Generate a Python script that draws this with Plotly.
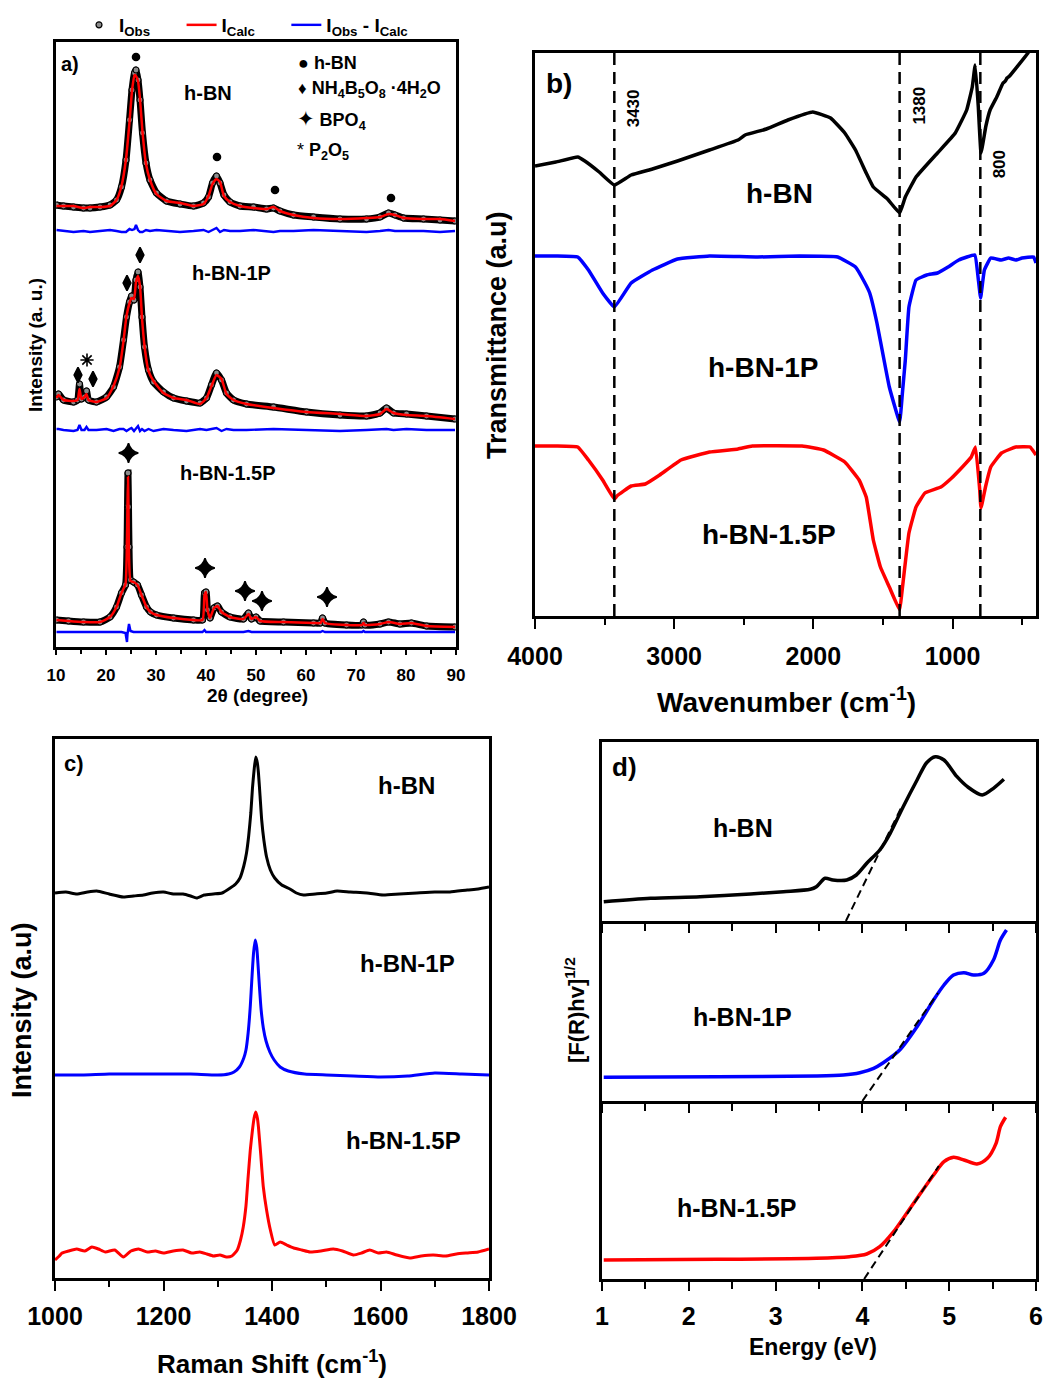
import plotly.graph_objects as go

W, H = 1045, 1380
FONT = "Liberation Sans, Arial, DejaVu Sans, sans-serif"

# ---------------- (a) XRD with refinement ----------------
tt_hbn = [10.1, 11.5, 13.5, 15.5, 16.8, 18.8, 20.8, 22.1, 23.1, 24.0, 24.7, 25.2, 25.7, 26.0, 26.4,
          26.8, 27.3, 28.0, 28.8, 30.1, 32.1, 34.8, 37.5, 39.5, 40.5, 41.3, 42.1, 42.8, 43.6, 44.8,
          46.8, 49.5, 52.1, 53.5, 54.8, 57.5, 61.5, 66.8, 72.1, 74.8, 76.5, 77.8, 79.5, 83.5, 86.8, 89.8]
obs_hbn = [442, 441, 440, 439, 439, 440, 442, 447, 460, 487, 527, 557, 574, 577, 567,
           547, 514, 484, 467, 454, 446, 443, 441, 444, 450, 464, 471, 464, 452, 445,
           441, 440, 438, 439, 436, 432, 430, 428, 428, 430, 434, 432, 429, 428, 427, 426]
calc_hbn = [441, 441, 441, 439, 440, 440, 441, 447, 461, 488, 525, 556, 572, 571, 566,
            548, 515, 483, 467, 453, 446, 444, 441, 443, 451, 463, 468, 465, 451, 445,
            441, 439, 438, 440, 436, 432, 429, 428, 429, 430, 433, 432, 429, 428, 428, 426]

tt_1p = [10.1, 10.5, 11.5, 13.5, 14.3, 14.7, 15.1, 15.7, 16.1, 16.5, 18.1, 20.1, 21.5, 22.7, 23.5,
         24.1, 24.7, 25.1, 25.6, 26.0, 26.4, 26.8, 27.2, 27.7, 28.5, 29.5, 31.5, 33.5, 36.1, 38.8,
         40.1, 41.1, 42.1, 43.1, 44.1, 45.5, 48.1, 53.5, 60.1, 66.8, 72.1, 74.8, 76.1, 77.5, 80.1,
         84.1, 89.8]
obs_1p = [250, 253, 247, 245, 247, 263, 248, 250, 256, 247, 245, 250, 260, 280, 307,
          330, 345, 351, 347, 367, 375, 360, 330, 300, 277, 265, 255, 249, 246, 244,
          249, 262, 274, 267, 254, 247, 243, 240, 235, 232, 231, 234, 239, 234, 233,
          231, 228]
calc_1p = [249, 252, 247, 246, 247, 258, 248, 250, 253, 247, 245, 249, 261, 279, 306,
           331, 344, 349, 348, 365, 371, 361, 329, 301, 276, 266, 254, 249, 247, 243,
           249, 261, 272, 268, 253, 247, 243, 239, 235, 233, 231, 233, 238, 234, 232,
           231, 228]

tt_15p = [10.1, 12.5, 15.5, 18.8, 20.8, 22.1, 23.1, 23.9, 24.2, 24.3, 24.4, 24.5, 24.6, 24.9, 25.5,
          26.3, 27.1, 28.1, 28.9, 30.1, 33.5, 37.5, 39.3, 39.7, 40.0, 40.3, 40.8, 41.6, 42.3, 43.1,
          44.8, 47.5, 48.5, 49.1, 50.0, 50.8, 55.5, 61.5, 62.9, 63.3, 63.8, 68.1, 71.2, 71.5, 71.8,
          74.8, 76.5, 78.8, 81.1, 84.1, 89.8]
obs_15p = [27, 26, 25, 25, 30, 40, 54, 62, 100, 140, 174, 140, 100, 67, 65,
           62, 52, 40, 35, 32, 29, 27, 27, 54, 55, 37, 29, 39, 41, 35,
           30, 28, 34, 28, 30, 26, 25, 24, 24, 29, 24, 22, 22, 25, 22,
           23, 25, 23, 24, 21, 20]
calc_15p = [27, 26, 25, 25, 30, 40, 54, 63, 110, 142, 170, 138, 92, 66, 65,
            62, 52, 40, 35, 32, 29, 27, 27, 52, 55, 37, 29, 39, 41, 35,
            30, 28, 33, 28, 30, 26, 25, 24, 24, 28, 24, 22, 22, 24, 22,
            23, 25, 23, 24, 21, 20]

# baseline of each difference curve in the stacked plot
diff_base = {"hbn": 416, "1p": 217, "15p": 15}

# phase reflections marked above the patterns
pk_hbn_x = [26.0, 42.2, 53.8, 77.0]
pk_hbn_y = [590, 490, 457, 449]
pk_nh4_x = [14.4, 17.4, 24.2, 26.8]
pk_nh4_y = [272, 268, 364, 392]
pk_p2o5_x = [16.2]
pk_p2o5_y = [287]
pk_bpo4_x = [24.5, 39.8, 47.8, 51.2, 64.2]
pk_bpo4_y = [194, 79, 56, 46, 50]

# ---------------- (b) FTIR ----------------
wn_hbn = [4000, 3850, 3693, 3642, 3539, 3430, 3309, 3156, 2976, 2746, 2541, 2490, 2337, 2183, 2004,
          1876, 1774, 1697, 1620, 1569, 1467, 1380, 1339, 1262, 1108, 980, 898, 858, 837, 815,
          795, 760, 730, 682, 637, 620, 608, 590, 458, 400]
ft_hbn = [450, 454, 459, 455, 444, 431, 441, 447, 455, 466, 476, 481, 487, 496, 504,
          498, 483, 466, 443, 429, 417, 403, 419, 439, 463, 483, 506, 529, 551, 510,
          463, 490, 506, 519, 533, 535, 538, 540, 563, 578]
wn_1p = [4000, 3850, 3693, 3616, 3514, 3430, 3309, 3156, 2976, 2746, 2400, 2100, 1825, 1697, 1633,
         1595, 1543, 1492, 1454, 1380, 1360, 1339, 1313, 1262, 1185, 1108, 1032, 955, 840, 814,
         798, 771, 725, 650, 597, 545, 500, 417, 400]
ft_1p = [360, 360, 359, 346, 323, 309, 333, 346, 357, 360, 359, 360, 359, 349, 334,
         323, 293, 256, 229, 194, 223, 256, 309, 336, 341, 343, 349, 356, 361, 336,
         318, 346, 358, 356, 358, 356, 358, 359, 353]
wn_15p = [4000, 3850, 3693, 3616, 3514, 3430, 3411, 3309, 3207, 3104, 2951, 2746, 2541, 2439, 2081,
          1927, 1774, 1671, 1620, 1569, 1518, 1454, 1380, 1364, 1313, 1262, 1198, 1083, 1006, 929,
          865, 835, 806, 795, 763, 725, 648, 545, 443, 400]
ft_15p = [170, 170, 169, 156, 136, 117, 120, 130, 132, 141, 156, 164, 167, 170, 170,
          166, 154, 136, 119, 76, 49, 29, 6, 23, 83, 109, 123, 129, 138, 149,
          159, 169, 129, 108, 129, 149, 163, 169, 169, 161]
ftir_bands = [3430, 1380, 800]
ftir_band_labels = ["3430", "1380", "800"]

# ---------------- (c) Raman ----------------
rs_hbn = [1000, 1020, 1040, 1060, 1077, 1100, 1126, 1145, 1163, 1180, 1200, 1218, 1236, 1250, 1261,
          1275, 1292, 1308, 1323, 1333, 1341, 1348, 1353, 1357, 1361, 1364, 1367, 1370, 1373, 1375,
          1378, 1381, 1385, 1390, 1397, 1405, 1418, 1433, 1445, 1458, 1480, 1501, 1520, 1544, 1575,
          1605, 1635, 1667, 1700, 1728, 1760, 1780, 1800]
ram_hbn = [385, 386, 384, 386, 387, 384, 381, 382, 383, 385, 386, 384, 384, 382, 380,
           383, 384, 385, 390, 394, 400, 412, 425, 442, 465, 490, 508, 521, 515, 505,
           482, 458, 438, 421, 408, 400, 393, 389, 385, 383, 384, 385, 387, 386, 385,
           383, 384, 385, 386, 386, 388, 389, 391]
rs_1p = [1000, 1050, 1100, 1150, 1200, 1250, 1300, 1320, 1330, 1340, 1348, 1352, 1356, 1360, 1363,
         1366, 1369, 1372, 1374, 1377, 1380, 1384, 1389, 1396, 1404, 1415, 1430, 1460, 1500, 1550,
         1600, 1650, 1700, 1750, 1800]
ram_1p = [203, 203, 204, 204, 204, 204, 203, 204, 206, 211, 220, 228, 245, 272, 300,
          325, 338, 330, 315, 290, 268, 250, 237, 226, 218, 211, 207, 204, 203, 202,
          201, 202, 205, 204, 203]
rs_15p = [1000, 1008, 1013, 1025, 1040, 1055, 1068, 1080, 1093, 1110, 1126, 1140, 1154, 1170, 1185,
          1200, 1218, 1236, 1252, 1267, 1280, 1292, 1304, 1316, 1326, 1336, 1342, 1347, 1352, 1356,
          1360, 1364, 1367, 1370, 1373, 1375, 1379, 1384, 1390, 1397, 1405, 1415, 1427, 1440, 1455,
          1470, 1490, 1513, 1530, 1550, 1565, 1580, 1596, 1611, 1630, 1654, 1675, 1697, 1720, 1740,
          1759, 1780, 1800]
ram_15p = [18, 22, 25, 27, 29, 27, 31, 29, 26, 28, 21, 27, 29, 26, 27,
           25, 27, 28, 25, 26, 24, 22, 23, 21, 22, 28, 38, 51, 72, 101,
           128, 148, 160, 166, 160, 151, 125, 91, 68, 48, 33, 36, 33, 30, 28,
           26, 27, 29, 27, 23, 25, 28, 25, 26, 23, 20, 22, 23, 22, 24,
           25, 26, 29]

# ---------------- (d) Tauc plots ----------------
E_hbn = [1.02, 1.56, 2.13, 2.71, 3.09, 3.40, 3.47, 3.57, 3.66, 3.82, 3.93, 4.05, 4.20, 4.32, 4.47,
         4.63, 4.74, 4.84, 4.94, 5.09, 5.21, 5.38, 5.51, 5.63]
uv_hbn = [19.3, 22.7, 24.3, 27.0, 29.3, 31.7, 34.3, 42.7, 41.0, 41.0, 46.0, 57.7, 71.0, 87.7, 114.3,
          141.0, 158.3, 164.3, 161.0, 144.3, 134.3, 126.0, 132.7, 141.7]
E_1p = [1.02, 2.33, 3.47, 3.78, 3.97, 4.13, 4.24, 4.43, 4.63, 4.82, 4.94, 5.05, 5.17, 5.28, 5.40,
        5.51, 5.59, 5.66]
uv_1p = [23.7, 24.3, 25.0, 26.0, 28.3, 32.7, 38.3, 51.0, 74.3, 101.0, 116.0, 126.0, 128.3, 126.0, 127.7,
         141.0, 161.0, 171.0]
E_15p = [1.02, 2.33, 3.47, 3.85, 4.05, 4.20, 4.36, 4.51, 4.67, 4.82, 4.94, 5.05, 5.17, 5.32, 5.44,
         5.54, 5.59, 5.65]
uv_15p = [19.0, 19.7, 20.7, 22.3, 25.0, 32.3, 47.3, 65.7, 85.7, 104.0, 117.3, 121.7, 119.0, 115.0, 120.7,
          135.7, 152.3, 161.7]
# linear extrapolations of the absorption edge
fit_hbn_E, fit_hbn_y = [3.81, 4.45], [0, 114]
fit_1p_E, fit_1p_y = [4.00, 4.87], [0, 108]
fit_15p_E, fit_15p_y = [4.02, 4.88], [0, 113]

BLACK, RED, BLUE = "#000000", "#ff0000", "#0000ff"
NB = "\u00a0"

fig = go.Figure()

# ---- panel a traces ----
patterns = [
    ("hbn", tt_hbn, obs_hbn, calc_hbn),
    ("1p", tt_1p, obs_1p, calc_1p),
    ("15p", tt_15p, obs_15p, calc_15p),
]
legend_names = {
    "obs": "I<sub>Obs</sub>" + NB * 5,
    "calc": "I<sub>Calc</sub>" + NB * 5,
    "diff": "I<sub>Obs</sub> - I<sub>Calc</sub>",
}
for i, (key, tt, obs, calc) in enumerate(patterns):
    first = i == 0
    fig.add_trace(go.Scatter(x=tt, y=obs, mode="lines", line=dict(color=BLACK, width=7, shape="spline", smoothing=0.5),
                             showlegend=False, hoverinfo="skip", xaxis="x", yaxis="y"))
    fig.add_trace(go.Scatter(x=tt, y=obs, mode="markers", name=legend_names["obs"], legendgroup="obs",
                             showlegend=first,
                             marker=dict(symbol="circle", size=6, color="#8c8c8c", line=dict(color=BLACK, width=1.2)),
                             xaxis="x", yaxis="y"))
    fig.add_trace(go.Scatter(x=tt, y=calc, mode="lines", name=legend_names["calc"], legendgroup="calc",
                             showlegend=first, line=dict(color=RED, width=2.5, shape="spline", smoothing=0.5),
                             xaxis="x", yaxis="y"))
    diff = [o - c + diff_base[key] for o, c in zip(obs, calc)]
    fig.add_trace(go.Scatter(x=tt, y=diff, mode="lines", name=legend_names["diff"],
                             legendgroup="diff", showlegend=first, line=dict(color=BLUE, width=2.4),
                             xaxis="x", yaxis="y"))

for xs, ys, sym, size in [(pk_hbn_x, pk_hbn_y, "circle", 7),
                          (pk_nh4_x, pk_nh4_y, "diamond-tall", 11),
                          (pk_bpo4_x, pk_bpo4_y, "star-diamond", 14),
                          (pk_p2o5_x, pk_p2o5_y, "asterisk-open", 11)]:
    fig.add_trace(go.Scatter(x=xs, y=ys, mode="markers", showlegend=False, hoverinfo="skip",
                             marker=dict(symbol=sym, size=size, color=BLACK, line=dict(color=BLACK, width=1.6)),
                             xaxis="x", yaxis="y"))

# ---- panel b traces ----
for wn, ft, col in [(wn_hbn, ft_hbn, BLACK), (wn_1p, ft_1p, BLUE), (wn_15p, ft_15p, RED)]:
    fig.add_trace(go.Scatter(x=wn, y=ft, mode="lines", showlegend=False,
                             line=dict(color=col, width=3.5, shape="spline", smoothing=0.3),
                             xaxis="x2", yaxis="y2"))
for b in ftir_bands:
    fig.add_trace(go.Scatter(x=[b, b], y=[0, 563], mode="lines", showlegend=False, hoverinfo="skip",
                             line=dict(color=BLACK, width=2.5, dash="12px,7px"), xaxis="x2", yaxis="y2"))

# ---- panel c traces ----
for rs, ram, col in [(rs_hbn, ram_hbn, BLACK), (rs_1p, ram_1p, BLUE), (rs_15p, ram_15p, RED)]:
    fig.add_trace(go.Scatter(x=rs, y=ram, mode="lines", showlegend=False,
                             line=dict(color=col, width=3, shape="spline", smoothing=0.5),
                             xaxis="x3", yaxis="y3"))

# ---- panel d traces ----
for E, uv, fe, fy, col, ax in [(E_hbn, uv_hbn, fit_hbn_E, fit_hbn_y, BLACK, "4"),
                               (E_1p, uv_1p, fit_1p_E, fit_1p_y, BLUE, "5"),
                               (E_15p, uv_15p, fit_15p_E, fit_15p_y, RED, "6")]:
    fig.add_trace(go.Scatter(x=E, y=uv, mode="lines", showlegend=False,
                             line=dict(color=col, width=3.5, shape="spline", smoothing=0.8),
                             xaxis="x" + ax, yaxis="y" + ax))
    fig.add_trace(go.Scatter(x=fe, y=fy, mode="lines", showlegend=False, hoverinfo="skip",
                             line=dict(color=BLACK, width=2, dash="8px,5px"),
                             xaxis="x" + ax, yaxis="y" + ax))


def frame(**kw):
    base = dict(showline=True, linecolor=BLACK, linewidth=2.5, mirror=True, showgrid=False,
                zeroline=False, ticks="", showticklabels=False, fixedrange=True, automargin=False)
    base.update(kw)
    return base


def xticks(size, ticklen, minor_len, dtick, tick0, minor_dtick, labels=True, standoff=4):
    return dict(ticks="outside", ticklen=ticklen, tickwidth=2.2, tickcolor=BLACK, dtick=dtick, tick0=tick0,
                minor=dict(ticks="outside", ticklen=minor_len, tickwidth=2.2, tickcolor=BLACK, dtick=minor_dtick),
                showticklabels=labels, ticklabelstandoff=standoff,
                tickfont=dict(family=FONT, size=size, color=BLACK, weight="bold"))


def dx(a, b):
    return [a / W, b / W]


def dy(top, bottom):
    return [1 - bottom / H, 1 - top / H]


fig.update_layout(
    template="none",
    xaxis=frame(domain=dx(56, 456), range=[10, 90], anchor="y",
                **xticks(17, 5, 4, 10, 10, 5, standoff=6)),
    yaxis=frame(domain=dy(42, 647), range=[0, 605], anchor="x"),
    xaxis2=frame(domain=dx(535, 1036), range=[4000, 400], anchor="y2",
                 **xticks(25, 10, 6, 1000, 0, 500, standoff=6)),
    yaxis2=frame(domain=dy(53, 616), range=[0, 563], anchor="x2"),
    xaxis3=frame(domain=dx(55, 489), range=[1000, 1800], anchor="y3",
                 **xticks(25, 10, 6, 200, 1000, 100, standoff=4)),
    yaxis3=frame(domain=dy(739, 1278), range=[0, 539], anchor="x3"),
    # stacked Tauc panels share the dividing lines: only the top one draws its upper edge
    xaxis4=frame(domain=dx(602, 1036), range=[1, 6], anchor="y4", mirror=True,
                 **xticks(25, 9, 7, 1, 1, 0.5, labels=False)),
    yaxis4=frame(domain=dy(742, 921), range=[0, 179], anchor="x4"),
    xaxis5=frame(domain=dx(602, 1036), range=[1, 6], anchor="y5", mirror=False,
                 **xticks(25, 9, 7, 1, 1, 0.5, labels=False)),
    yaxis5=frame(domain=dy(921, 1101), range=[0, 180], anchor="x5"),
    xaxis6=frame(domain=dx(602, 1036), range=[1, 6], anchor="y6", mirror=False,
                 **xticks(25, 9, 7, 1, 1, 0.5, standoff=4)),
    yaxis6=frame(domain=dy(1101, 1279), range=[0, 178], anchor="x6"),
)

annotations = []


def ann(text, x, y, size, xanchor="center", angle=0, **kw):
    annotations.append(dict(text=text, x=x / W, y=1 - y / H, xref="paper", yref="paper",
                            xanchor=xanchor, yanchor="middle", showarrow=False, textangle=angle,
                            font=dict(family=FONT, size=size, color=BLACK, weight="bold"), **kw))


# panel a
ann("a)", 59, 64, 20, "left")
ann("h-BN", 208, 93, 20)
ann("h-BN-1P", 231, 273, 20)
ann("h-BN-1.5P", 228, 473, 20)
ann("<span style='font-size:18px'>●</span> h-BN", 296, 63, 18, "left")
ann("<span style='font-size:17px'>♦</span> NH<sub>4</sub>B<sub>5</sub>O<sub>8</sub> ·4H<sub>2</sub>O", 296, 90, 18, "left")
ann("<span style='font-size:21px'>✦</span> BPO<sub>4</sub>", 295, 120, 18, "left")
ann("<span style='font-weight:normal'>*</span> P<sub>2</sub>O<sub>5</sub>", 295, 151, 18, "left")
ann("Intensity (a. u.)", 35, 345, 19, angle=-90)
ann("2θ (degree)", 257, 695, 19)

# panel b
ann("b)", 544, 84, 28, "left")
ann("h-BN", 779, 193, 28)
ann("h-BN-1P", 763, 367, 28)
ann("h-BN-1.5P", 769, 535, 28)
ann("Transmittance (a.u)", 497, 335, 27, angle=-90)
ann("Wavenumber (cm<sup>-1</sup>)", 786, 700, 28)
for b, lab, yv in zip(ftir_bands, ftir_band_labels, [508, 510, 452]):
    annotations.append(dict(text=lab, x=b, y=yv, xref="x2", yref="y2", xshift=19, showarrow=False,
                            textangle=-90, xanchor="center", yanchor="middle",
                            font=dict(family=FONT, size=17, color=BLACK, weight="bold")))

# panel c
ann("c)", 62, 763, 22, "left")
ann("h-BN", 406, 785, 24)
ann("h-BN-1P", 408, 963, 24)
ann("h-BN-1.5P", 403, 1140, 24)
ann("Intensity (a.u)", 22, 1010, 27, angle=-90)
ann("Raman Shift (cm<sup>-1</sup>)", 272, 1362, 26)

# panel d
ann("d)", 610, 767, 26, "left")
ann("h-BN", 743, 828, 25)
ann("h-BN-1P", 742, 1017, 25)
ann("h-BN-1.5P", 736, 1208, 25)
ann("[F(R)hv]<sup>1/2</sup>", 575, 1010, 22, angle=-90)
ann("Energy (eV)", 813, 1347, 23)

fig.update_layout(
    annotations=annotations,
    width=W, height=H, autosize=False,
    margin=dict(l=0, r=0, t=0, b=0, pad=0),
    paper_bgcolor="white", plot_bgcolor="white",
    font=dict(family=FONT, color=BLACK),
    showlegend=True,
    legend=dict(orientation="h", x=79 / W, y=1 - 6 / H, xanchor="left", yanchor="top",
                bgcolor="rgba(0,0,0,0)", borderwidth=0,
                font=dict(family=FONT, size=19, color=BLACK, weight="bold"), tracegroupgap=0),
)

fig.write_html("out.html", include_plotlyjs=True, config={"displayModeBar": False})
